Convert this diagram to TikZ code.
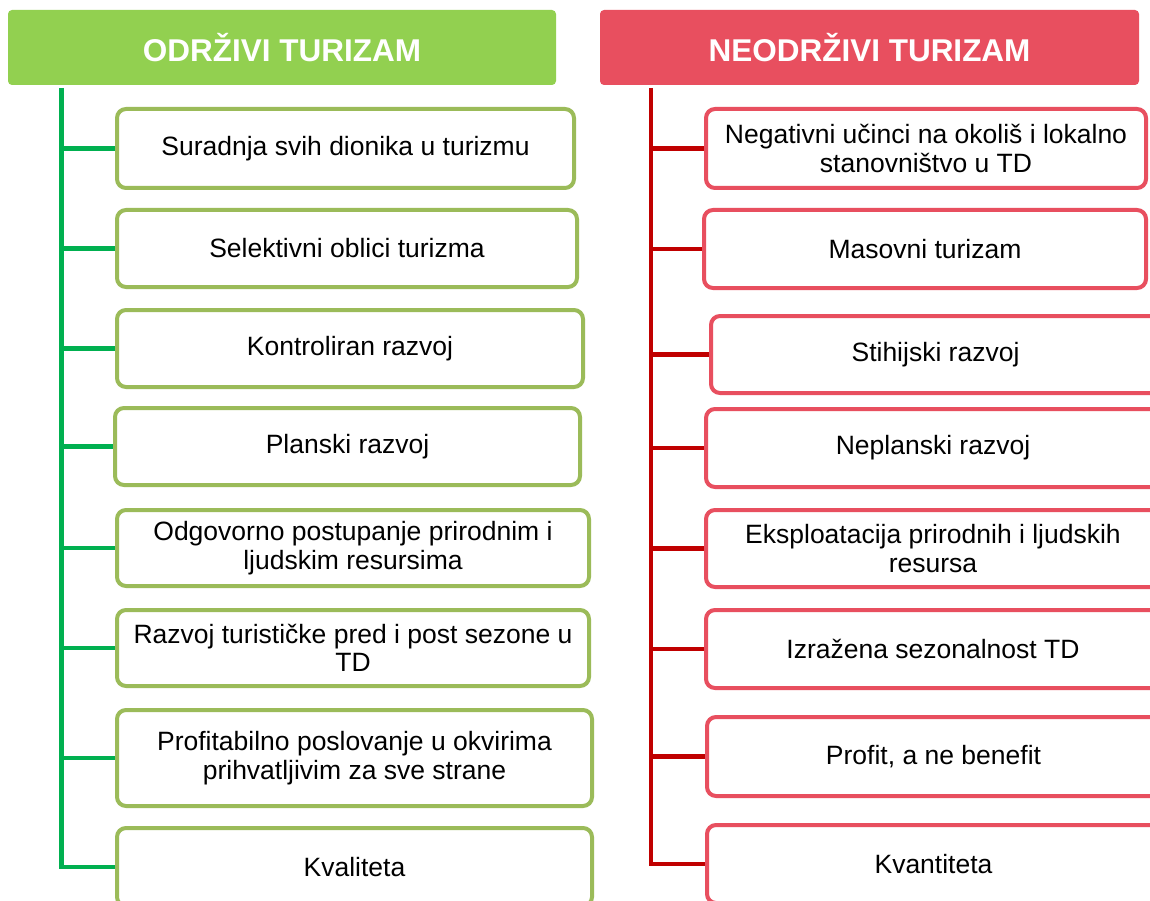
\documentclass[tikz,border=0pt]{standalone}
\usepackage{fontspec}
\setmainfont{Liberation Sans}
\definecolor{hgreen}{HTML}{92D050}
\definecolor{bgreen}{HTML}{9BBB59}
\definecolor{lgreen}{HTML}{00B050}
\definecolor{hred}{HTML}{E84F5F}
\definecolor{lred}{HTML}{C00000}
\tikzset{
  header/.style={rectangle, rounded corners=4pt, inner sep=0pt, text=white,
    font=\bfseries\fontsize{31.5}{34}\selectfont},
  itembox/.style={rectangle, rounded corners=9pt, line width=4pt, fill=white,
    inner sep=0pt, align=center, text=black,
    font=\fontsize{26.5}{28.5}\selectfont},
  gbox/.style={itembox, draw=bgreen},
  rbox/.style={itembox, draw=hred},
  gline/.style={draw=lgreen, line width=4.5pt},
  rline/.style={draw=lred, line width=4.5pt},
}
\begin{document}
\begin{tikzpicture}[x=1pt,y=-1pt]
\useasboundingbox (0,0) rectangle (1150,901);
\fill[white] (0,0) rectangle (1150,901);

% headers
\node[header, fill=hgreen, minimum width=548pt, minimum height=75pt] (gh) at (282,47.5) {ODRŽIVI TURIZAM};
\node[header, fill=hred, minimum width=539pt, minimum height=75pt] (rh) at (869.5,47.5) {NEODRŽIVI TURIZAM};

% green boxes
\node[gbox, minimum width=457pt, minimum height=79pt] (g1) at (345.5,148.5) {Suradnja svih dionika u turizmu};
\node[gbox, minimum width=460pt, minimum height=77pt] (g2) at (347,248.5) {Selektivni oblici turizma};
\node[gbox, minimum width=466pt, minimum height=77pt] (g3) at (350,348.5) {Kontroliran razvoj};
\node[gbox, minimum width=465pt, minimum height=77pt] (g4) at (347.5,446.5) {Planski razvoj};
\node[gbox, minimum width=472pt, minimum height=76pt] (g5) at (353,548) {Odgovorno postupanje prirodnim i\\ljudskim resursima};
\node[gbox, minimum width=472pt, minimum height=76pt] (g6) at (353,648) {Razvoj turističke pred i post sezone u\\TD};
\node[gbox, minimum width=475pt, minimum height=96pt] (g7) at (354.5,758) {Profitabilno poslovanje u okvirima\\prihvatljivim za sve strane};
\node[gbox, minimum width=475pt, minimum height=78pt] (g8) at (354.5,867) {Kvaliteta};

% red boxes
\node[rbox, minimum width=440pt, minimum height=79pt] (r1) at (926,148.5) {Negativni učinci na okoliš i lokalno\\stanovništvo u TD};
\node[rbox, minimum width=442pt, minimum height=78pt] (r2) at (925,249) {Masovni turizam};
\node[rbox, minimum width=449pt, minimum height=77pt] (r3) at (935.5,354.5) {Stihijski razvoj};
\node[rbox, minimum width=454pt, minimum height=78pt] (r4) at (933,448) {Neplanski razvoj};
\node[rbox, minimum width=454pt, minimum height=77pt] (r5) at (933,548.5) {Eksploatacija prirodnih i ljudskih\\resursa};
\node[rbox, minimum width=454pt, minimum height=78pt] (r6) at (933,649) {Izražena sezonalnost TD};
\node[rbox, minimum width=453pt, minimum height=79pt] (r7) at (933.5,756.5) {Profit, a ne benefit};
\node[rbox, minimum width=453pt, minimum height=78pt] (r8) at (933.5,864) {Kvantiteta};

% trunks
\coordinate (gt) at (61.5,88);
\coordinate (rt) at (651,88);
\draw[gline] (gt) |- (g8.west);
\draw[rline] (rt) |- (r8.west);
\foreach \i in {1,...,7}{
  \draw[gline] (g\i.west -| gt) -- (g\i.west);
  \draw[rline] (r\i.west -| rt) -- (r\i.west);
}
\end{tikzpicture}
\end{document}
